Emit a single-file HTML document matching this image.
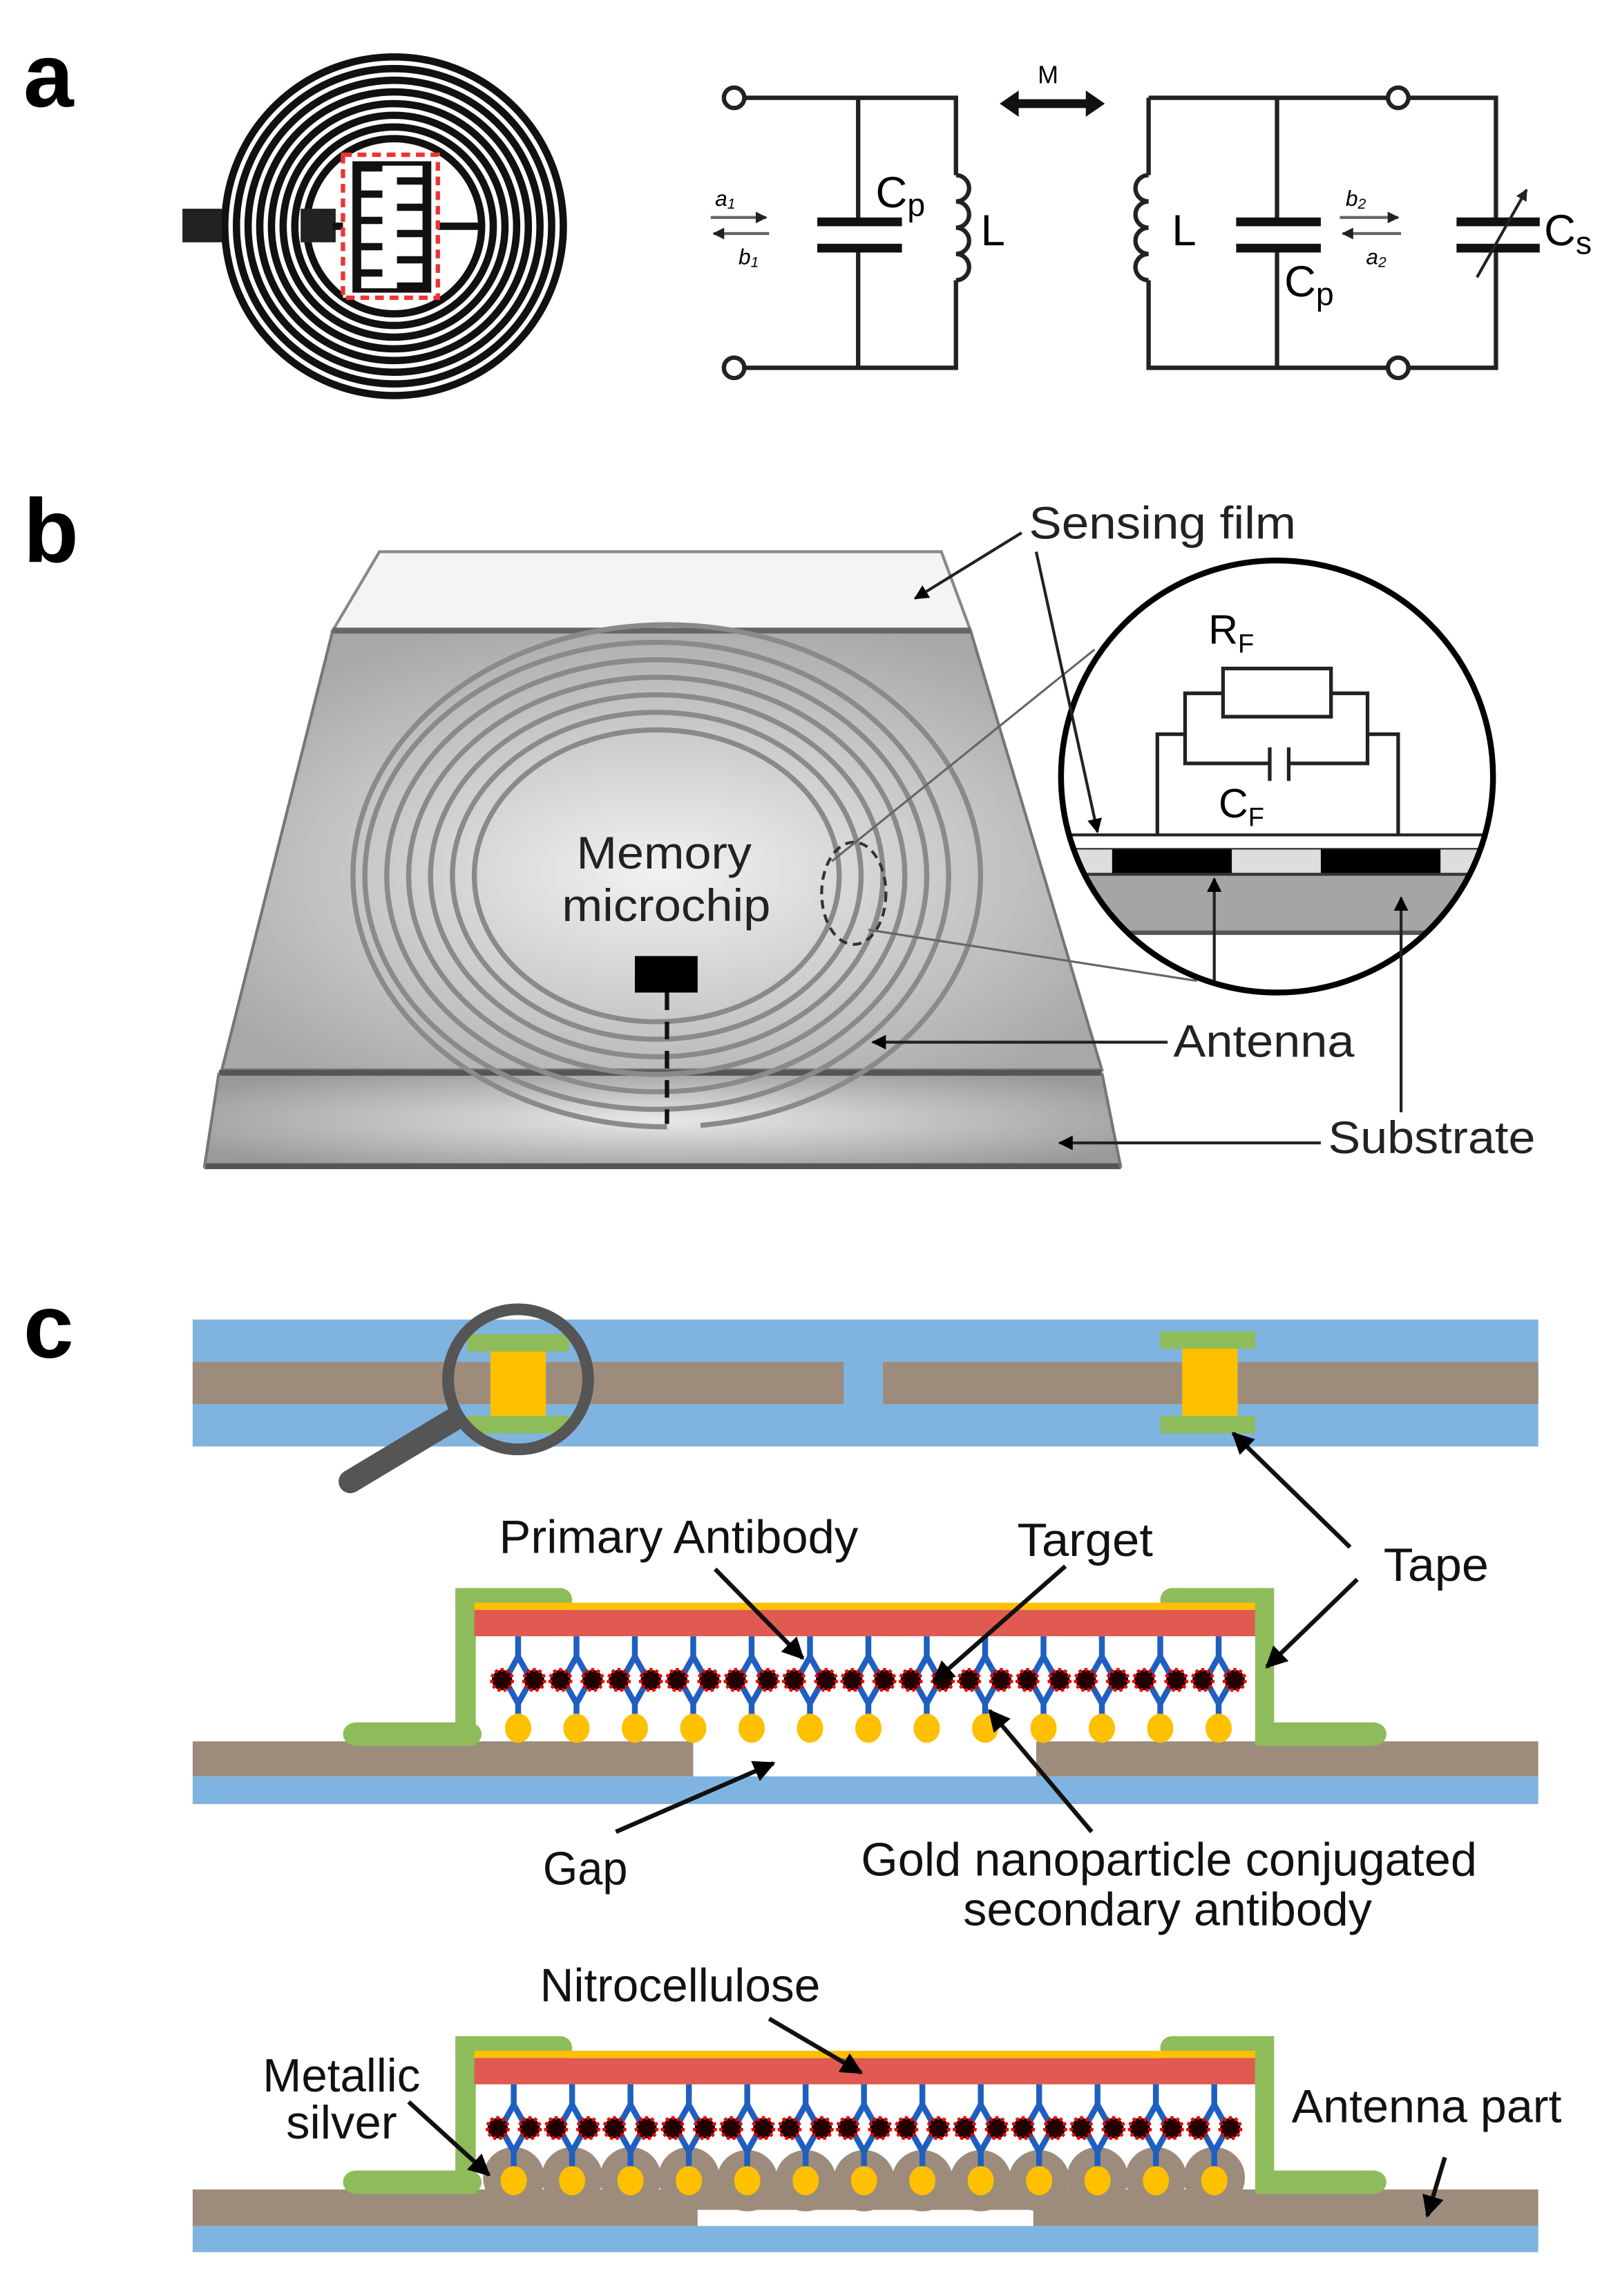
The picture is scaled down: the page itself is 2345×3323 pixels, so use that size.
<!DOCTYPE html>
<html><head><meta charset="utf-8"><style>
html,body{margin:0;padding:0;background:#fff;}
svg{display:block;}
text{font-family:"Liberation Sans",sans-serif;}
</style></head><body>
<svg width="2345" height="3323" viewBox="0 0 1110 1573" preserveAspectRatio="none" xmlns="http://www.w3.org/2000/svg">
<defs>
<radialGradient id="gg" cx="0.5" cy="0.55" r="0.6"><stop offset="0" stop-color="#f2f2f2"/><stop offset="1" stop-color="#a8a8a8"/></radialGradient>
<radialGradient id="gs" cx="0.5" cy="0.5" r="0.6"><stop offset="0" stop-color="#e8e8e8"/><stop offset="1" stop-color="#9a9a9a"/></radialGradient>
<marker id="ah" viewBox="0 0 10 10" refX="9" refY="5" markerWidth="5" markerHeight="5" orient="auto"><path d="M0,0L10,5L0,10z" fill="#000"/></marker>
<marker id="ah2" viewBox="0 0 10 10" refX="9" refY="5" markerWidth="4" markerHeight="4" orient="auto"><path d="M0,0L10,5L0,10z" fill="#222"/></marker>
<g id="ab">
<line x1="0" y1="0" x2="0" y2="15" stroke="#1f5fbf" stroke-width="4"/>
<path d="M0,14L-9,30L0,46L9,30Z" fill="none" stroke="#1f5fbf" stroke-width="4"/>
<line x1="0" y1="45" x2="0" y2="58" stroke="#1f5fbf" stroke-width="4"/>
<circle cx="-11" cy="30" r="7" fill="#200" stroke="#e00" stroke-width="2.5" stroke-dasharray="2 2"/>
<circle cx="11" cy="30" r="7" fill="#200" stroke="#e00" stroke-width="2.5" stroke-dasharray="2 2"/>
</g>
</defs>

<!-- ===== Panel a ===== -->
<text x="16" y="73" font-size="62" font-weight="bold">a</text>
<g fill="none" stroke="#111" stroke-width="5">
<circle cx="270" cy="155" r="116"/><circle cx="270" cy="155" r="108"/><circle cx="270" cy="155" r="100"/>
<circle cx="270" cy="155" r="92"/><circle cx="270" cy="155" r="84"/><circle cx="270" cy="155" r="76"/>
<circle cx="270" cy="155" r="68"/><circle cx="270" cy="155" r="60"/>
</g>
<rect x="125" y="143" width="27" height="23" fill="#222"/>
<rect x="206" y="143" width="24" height="23" fill="#222"/>
<line x1="228" y1="155" x2="332" y2="155" stroke="#111" stroke-width="5"/>
<rect x="235" y="106" width="65" height="98" fill="#fff" stroke="#e33" stroke-width="3" stroke-dasharray="6 4"/>
<g fill="none" stroke="#111" stroke-width="5">
<path d="M245,112 V198 M245,115 H262 M245,133 H262 M245,151 H262 M245,169 H262 M245,187 H262"/>
<path d="M292,112 V198 M292,124 H272 M292,142 H272 M292,160 H272 M292,178 H272 M292,196 H272"/>
</g>
<rect x="243" y="112" width="51" height="87" fill="none" stroke="#111" stroke-width="3"/>

<g stroke="#222" stroke-width="3" fill="none">
<path d="M510,67 H655 V120 M510,252 H655 V192 M588,67 V150 M588,173 V252"/>
<path d="M655,120 a9,9 0 0 1 0,18 a9,9 0 0 1 0,18 a9,9 0 0 1 0,18 a9,9 0 0 1 0,18"/>
<path d="M787,120 a9,9 0 0 0 0,18 a9,9 0 0 0 0,18 a9,9 0 0 0 0,18 a9,9 0 0 0 0,18"/>
<path d="M787,67 H951 M965,67 H1025 V150 M1025,173 V252 H965 M951,252 H787 V192 M787,67 V120 M875,67 V150 M875,173 V252"/>
</g>
<circle cx="503" cy="67" r="7" fill="#fff" stroke="#222" stroke-width="3"/>
<circle cx="503" cy="252" r="7" fill="#fff" stroke="#222" stroke-width="3"/>
<circle cx="958" cy="67" r="7" fill="#fff" stroke="#222" stroke-width="3"/>
<circle cx="958" cy="252" r="7" fill="#fff" stroke="#222" stroke-width="3"/>
<g fill="#111">
<rect x="560" y="149" width="58" height="6"/><rect x="560" y="167" width="58" height="6"/>
<rect x="847" y="149" width="58" height="6"/><rect x="847" y="167" width="58" height="6"/>
<rect x="998" y="149" width="57" height="6"/><rect x="998" y="167" width="57" height="6"/>
</g>
<line x1="1012" y1="190" x2="1046" y2="130" stroke="#222" stroke-width="2" marker-end="url(#ah2)"/>
<text x="600" y="142" font-size="30">C<tspan font-size="22" dy="6">p</tspan></text>
<text x="672" y="168" font-size="30">L</text>
<text x="803" y="168" font-size="30">L</text>
<text x="880" y="203" font-size="30">C<tspan font-size="22" dy="6">p</tspan></text>
<text x="1058" y="168" font-size="30">C<tspan font-size="22" dy="6">s</tspan></text>
<g font-family="Liberation Serif,serif" font-style="italic" font-size="15">
<text x="490" y="141">a<tspan font-size="10" dy="2">1</tspan></text>
<text x="506" y="181">b<tspan font-size="10" dy="2">1</tspan></text>
<text x="922" y="141">b<tspan font-size="10" dy="2">2</tspan></text>
<text x="936" y="181">a<tspan font-size="10" dy="2">2</tspan></text>
</g>
<g stroke="#666" stroke-width="2">
<line x1="487" y1="149" x2="525" y2="149" marker-end="url(#ah2)"/>
<line x1="527" y1="160" x2="489" y2="160" marker-end="url(#ah2)"/>
<line x1="918" y1="149" x2="958" y2="149" marker-end="url(#ah2)"/>
<line x1="960" y1="160" x2="920" y2="160" marker-end="url(#ah2)"/>
</g>
<path d="M685,71 L698,62 V68 H744 V62 L757,71 L744,80 V74 H698 V80 Z" fill="#111"/>
<text x="711" y="57" font-family="Liberation Serif,serif" font-size="17">M</text>

<!-- ===== Panel b ===== -->
<text x="16" y="385" font-size="62" font-weight="bold">b</text>
<polygon points="260,378 645,378 665,432 228,432" fill="#f4f4f4" stroke="#888" stroke-width="2"/>
<polygon points="228,432 665,432 755,733 152,733" fill="url(#gg)" stroke="#777" stroke-width="2"/>
<line x1="228" y1="432" x2="665" y2="432" stroke="#666" stroke-width="4"/>
<polygon points="150,735 755,735 768,800 140,800" fill="url(#gs)"/>
<line x1="150" y1="735" x2="755" y2="735" stroke="#555" stroke-width="4"/>
<line x1="140" y1="799" x2="768" y2="799" stroke="#555" stroke-width="4"/>
<line x1="150" y1="735" x2="140" y2="800" stroke="#777" stroke-width="2"/>
<line x1="755" y1="735" x2="768" y2="800" stroke="#777" stroke-width="2"/>
<g fill="none" stroke="#8a8a8a" stroke-width="3.5">
<path d="M457,772 A215,172 0 1 1 480,771"/>
<ellipse cx="450" cy="600" rx="200" ry="160"/>
<ellipse cx="450" cy="600" rx="185" ry="148"/>
<ellipse cx="450" cy="600" rx="170" ry="136"/>
<ellipse cx="450" cy="600" rx="155" ry="124"/>
<ellipse cx="450" cy="600" rx="140" ry="112"/>
<ellipse cx="450" cy="600" rx="125" ry="100"/>
</g>
<text x="395" y="595" font-size="31" textLength="120" lengthAdjust="spacingAndGlyphs" fill="#222">Memory</text>
<text x="385" y="631" font-size="31" textLength="143" lengthAdjust="spacingAndGlyphs" fill="#222">microchip</text>
<rect x="435" y="655" width="43" height="25" fill="#000"/>
<line x1="457" y1="680" x2="457" y2="770" stroke="#111" stroke-width="3" stroke-dasharray="12 8"/>
<ellipse cx="585" cy="612" rx="22" ry="35" fill="none" stroke="#333" stroke-width="2" stroke-dasharray="6 4"/>
<line x1="570" y1="590" x2="750" y2="445" stroke="#666" stroke-width="1.5"/>
<line x1="595" y1="637" x2="820" y2="672" stroke="#666" stroke-width="1.5"/>
<circle cx="875" cy="532" r="148" fill="#fff"/>
<clipPath id="cc"><circle cx="875" cy="532" r="147"/></clipPath>
<g clip-path="url(#cc)">
<rect x="720" y="572" width="310" height="10" fill="#fff" stroke="#222" stroke-width="2"/>
<rect x="720" y="582" width="310" height="17" fill="#ddd"/>
<rect x="762" y="582" width="82" height="17" fill="#000"/>
<rect x="905" y="582" width="82" height="17" fill="#000"/>
<rect x="720" y="599" width="310" height="40" fill="#a5a5a5"/>
<line x1="720" y1="599" x2="1030" y2="599" stroke="#333" stroke-width="2"/>
<line x1="720" y1="639" x2="1030" y2="639" stroke="#555" stroke-width="3"/>
</g>
<circle cx="875" cy="532" r="148" fill="none" stroke="#000" stroke-width="4"/>
<g fill="none" stroke="#222" stroke-width="2.5">
<rect x="838" y="458" width="74" height="33"/>
<path d="M838,475 H812 V523 H870 M883,523 H937 V475 H912"/>
<path d="M870,512 V535 M883,512 V535"/>
<path d="M812,503 H793 V572 M937,503 H958 V572"/>
</g>
<text x="828" y="441" font-size="28">R<tspan font-size="18" dy="6">F</tspan></text>
<text x="835" y="560" font-size="28">C<tspan font-size="18" dy="6">F</tspan></text>
<g stroke="#222" stroke-width="2" fill="none">
<line x1="700" y1="365" x2="627" y2="410" marker-end="url(#ah)"/>
<line x1="710" y1="378" x2="752" y2="570" marker-end="url(#ah)"/>
<line x1="832" y1="672" x2="832" y2="602" marker-end="url(#ah)"/>
<line x1="960" y1="762" x2="960" y2="615" marker-end="url(#ah)"/>
<line x1="800" y1="714" x2="598" y2="714" marker-end="url(#ah)"/>
<line x1="905" y1="783" x2="726" y2="783" marker-end="url(#ah)"/>
</g>
<g font-size="31" fill="#222">
<text x="705" y="369" textLength="183" lengthAdjust="spacingAndGlyphs">Sensing film</text>
<text x="804" y="724" textLength="124" lengthAdjust="spacingAndGlyphs">Antenna</text>
<text x="910" y="790" textLength="142" lengthAdjust="spacingAndGlyphs">Substrate</text>
</g>

<!-- ===== Panel c ===== -->
<text x="16" y="930" font-size="62" font-weight="bold">c</text>
<rect x="132" y="904" width="922" height="87" fill="#80b4e0"/>
<rect x="132" y="933" width="446" height="29" fill="#9d8c7c"/>
<rect x="605" y="933" width="449" height="29" fill="#9d8c7c"/>
<rect x="320" y="914" width="70" height="12" fill="#8fbc5a"/>
<rect x="320" y="970" width="70" height="12" fill="#8fbc5a"/>
<rect x="336" y="926" width="38" height="44" fill="#ffc000"/>
<rect x="795" y="912" width="65" height="12" fill="#8fbc5a"/>
<rect x="795" y="970" width="65" height="12" fill="#8fbc5a"/>
<rect x="810" y="924" width="38" height="46" fill="#ffc000"/>
<line x1="240" y1="1015" x2="310" y2="973" stroke="#555" stroke-width="16" stroke-linecap="round"/>
<circle cx="355" cy="945" r="48" fill="none" stroke="#555" stroke-width="8"/>

<rect x="132" y="1193" width="343" height="24" fill="#9d8c7c"/>
<rect x="710" y="1193" width="344" height="24" fill="#9d8c7c"/>
<rect x="132" y="1217" width="922" height="19" fill="#80b4e0"/>
<rect x="235" y="1180" width="95" height="16" rx="9" fill="#8fbc5a"/>
<rect x="312" y="1088" width="14" height="108" fill="#8fbc5a"/>
<rect x="312" y="1088" width="80" height="16" rx="8" fill="#8fbc5a"/>
<rect x="860" y="1180" width="90" height="16" rx="9" fill="#8fbc5a"/>
<rect x="860" y="1088" width="13" height="108" fill="#8fbc5a"/>
<rect x="795" y="1088" width="78" height="16" rx="8" fill="#8fbc5a"/>
<rect x="325" y="1098" width="535" height="5" fill="#ffc000"/>
<rect x="325" y="1103" width="535" height="18" fill="#e05a52"/>
<g>
<use href="#ab" x="355" y="1121"/><use href="#ab" x="395" y="1121"/><use href="#ab" x="435" y="1121"/>
<use href="#ab" x="475" y="1121"/><use href="#ab" x="515" y="1121"/><use href="#ab" x="555" y="1121"/>
<use href="#ab" x="595" y="1121"/><use href="#ab" x="635" y="1121"/><use href="#ab" x="675" y="1121"/>
<use href="#ab" x="715" y="1121"/><use href="#ab" x="755" y="1121"/><use href="#ab" x="795" y="1121"/>
<use href="#ab" x="835" y="1121"/>
</g>
<g fill="#ffc000">
<ellipse cx="355" cy="1184" rx="9" ry="10"/><ellipse cx="395" cy="1184" rx="9" ry="10"/><ellipse cx="435" cy="1184" rx="9" ry="10"/>
<ellipse cx="475" cy="1184" rx="9" ry="10"/><ellipse cx="515" cy="1184" rx="9" ry="10"/><ellipse cx="555" cy="1184" rx="9" ry="10"/>
<ellipse cx="595" cy="1184" rx="9" ry="10"/><ellipse cx="635" cy="1184" rx="9" ry="10"/><ellipse cx="675" cy="1184" rx="9" ry="10"/>
<ellipse cx="715" cy="1184" rx="9" ry="10"/><ellipse cx="755" cy="1184" rx="9" ry="10"/><ellipse cx="795" cy="1184" rx="9" ry="10"/>
<ellipse cx="835" cy="1184" rx="9" ry="10"/>
</g>

<rect x="132" y="1500" width="922" height="25" fill="#9d8c7c"/>
<rect x="132" y="1525" width="922" height="18" fill="#80b4e0"/>
<rect x="478" y="1514" width="230" height="11" fill="#fff"/>
<rect x="235" y="1487" width="95" height="16" rx="9" fill="#8fbc5a"/>
<rect x="312" y="1395" width="14" height="108" fill="#8fbc5a"/>
<rect x="312" y="1395" width="80" height="16" rx="8" fill="#8fbc5a"/>
<rect x="860" y="1487" width="90" height="16" rx="9" fill="#8fbc5a"/>
<rect x="860" y="1395" width="13" height="108" fill="#8fbc5a"/>
<rect x="795" y="1395" width="78" height="16" rx="8" fill="#8fbc5a"/>
<rect x="325" y="1405" width="535" height="5" fill="#ffc000"/>
<rect x="325" y="1410" width="535" height="18" fill="#e05a52"/>
<g fill="#9d8c7c">
<circle cx="352" cy="1492" r="21"/><circle cx="392" cy="1492" r="21"/><circle cx="432" cy="1492" r="21"/>
<circle cx="472" cy="1492" r="21"/><circle cx="512" cy="1494" r="21"/><circle cx="552" cy="1494" r="21"/>
<circle cx="592" cy="1494" r="21"/><circle cx="632" cy="1494" r="21"/><circle cx="672" cy="1494" r="21"/>
<circle cx="712" cy="1494" r="21"/><circle cx="752" cy="1492" r="21"/><circle cx="792" cy="1492" r="21"/>
<circle cx="832" cy="1492" r="21"/>
</g>
<g>
<use href="#ab" x="352" y="1428"/><use href="#ab" x="392" y="1428"/><use href="#ab" x="432" y="1428"/>
<use href="#ab" x="472" y="1428"/><use href="#ab" x="512" y="1428"/><use href="#ab" x="552" y="1428"/>
<use href="#ab" x="592" y="1428"/><use href="#ab" x="632" y="1428"/><use href="#ab" x="672" y="1428"/>
<use href="#ab" x="712" y="1428"/><use href="#ab" x="752" y="1428"/><use href="#ab" x="792" y="1428"/>
<use href="#ab" x="832" y="1428"/>
</g>
<g fill="#ffc000">
<ellipse cx="352" cy="1494" rx="9" ry="10"/><ellipse cx="392" cy="1494" rx="9" ry="10"/><ellipse cx="432" cy="1494" rx="9" ry="10"/>
<ellipse cx="472" cy="1494" rx="9" ry="10"/><ellipse cx="512" cy="1494" rx="9" ry="10"/><ellipse cx="552" cy="1494" rx="9" ry="10"/>
<ellipse cx="592" cy="1494" rx="9" ry="10"/><ellipse cx="632" cy="1494" rx="9" ry="10"/><ellipse cx="672" cy="1494" rx="9" ry="10"/>
<ellipse cx="712" cy="1494" rx="9" ry="10"/><ellipse cx="752" cy="1494" rx="9" ry="10"/><ellipse cx="792" cy="1494" rx="9" ry="10"/>
<ellipse cx="832" cy="1494" rx="9" ry="10"/>
</g>

<g stroke="#111" stroke-width="3" fill="none">
<line x1="925" y1="1060" x2="845" y2="982" marker-end="url(#ah)"/>
<line x1="930" y1="1082" x2="868" y2="1142" marker-end="url(#ah)"/>
<line x1="490" y1="1075" x2="550" y2="1136" marker-end="url(#ah)"/>
<line x1="730" y1="1073" x2="640" y2="1152" marker-end="url(#ah)"/>
<line x1="422" y1="1255" x2="530" y2="1208" marker-end="url(#ah)"/>
<line x1="748" y1="1255" x2="678" y2="1172" marker-end="url(#ah)"/>
<line x1="527" y1="1383" x2="590" y2="1420" marker-end="url(#ah)"/>
<line x1="280" y1="1440" x2="335" y2="1490" marker-end="url(#ah)"/>
<line x1="990" y1="1478" x2="978" y2="1518" marker-end="url(#ah)"/>
</g>
<g font-size="32" fill="#111" lengthAdjust="spacingAndGlyphs">
<text x="342" y="1064" textLength="246" lengthAdjust="spacingAndGlyphs">Primary Antibody</text>
<text x="697" y="1066" textLength="93" lengthAdjust="spacingAndGlyphs">Target</text>
<text x="948" y="1083" textLength="72" lengthAdjust="spacingAndGlyphs">Tape</text>
<text x="372" y="1291" textLength="58" lengthAdjust="spacingAndGlyphs">Gap</text>
<text x="590" y="1285" textLength="422" lengthAdjust="spacingAndGlyphs">Gold nanoparticle conjugated</text>
<text x="660" y="1319" textLength="280" lengthAdjust="spacingAndGlyphs">secondary antibody</text>
<text x="370" y="1371" textLength="192" lengthAdjust="spacingAndGlyphs">Nitrocellulose</text>
<text x="180" y="1433" textLength="108" lengthAdjust="spacingAndGlyphs">Metallic</text>
<text x="196" y="1465" textLength="76" lengthAdjust="spacingAndGlyphs">silver</text>
<text x="885" y="1454" textLength="185" lengthAdjust="spacingAndGlyphs">Antenna part</text>
</g>
</svg>
</body></html>
